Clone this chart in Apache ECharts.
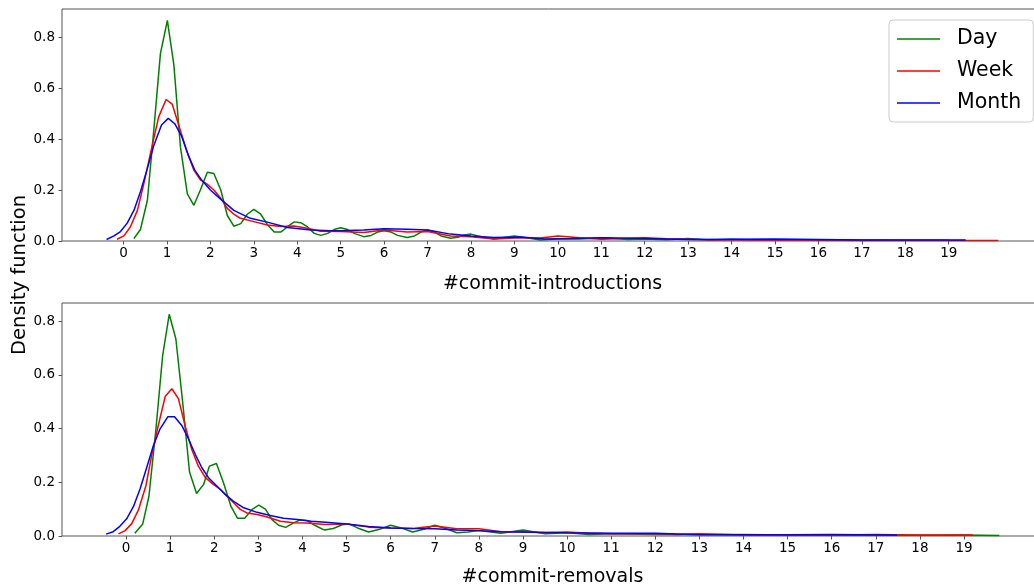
<!DOCTYPE html>
<html>
<head>
<meta charset="utf-8">
<script src="https://cdn.jsdelivr.net/npm/echarts@6/dist/echarts.min.js"></script>
<style>
html,body{margin:0;padding:0;background:#fff;}
#chart{width:1034px;height:588px;}
</style>
</head>
<body>
<div id="chart"></div>
<script>
// ---- data (x = count, y = density) ----
const xTicks = [0,1,2,3,4,5,6,7,8,9,10,11,12,13,14,15,16,17,18,19];
const yTicks = [0,0.2,0.4,0.6,0.8];
const seriesNames = ['Day','Week','Month'];

const introDay = [[0.24,0.01],[0.39,0.045],[0.55,0.16],[0.70,0.44],[0.85,0.735],[1.01,0.865],[1.16,0.69],[1.31,0.37],[1.47,0.185],[1.62,0.14],[1.77,0.2],[1.93,0.27],[2.08,0.265],[2.24,0.2],[2.39,0.1],[2.54,0.058],[2.70,0.068],[2.85,0.105],[3.0,0.124],[3.16,0.105],[3.31,0.065],[3.47,0.035],[3.62,0.035],[3.77,0.055],[3.93,0.075],[4.08,0.072],[4.24,0.055],[4.39,0.03],[4.54,0.022],[4.7,0.03],[4.85,0.045],[5.0,0.052],[5.16,0.045],[5.31,0.03],[5.53,0.017],[5.7,0.022],[5.85,0.035],[6.0,0.04],[6.16,0.035],[6.31,0.022],[6.53,0.014],[6.7,0.02],[6.85,0.035],[7.0,0.043],[7.16,0.035],[7.31,0.02],[7.53,0.011],[7.7,0.015],[7.85,0.024],[8.0,0.027],[8.16,0.02],[8.53,0.008],[8.8,0.015],[9.0,0.02],[9.2,0.015],[9.6,0.004],[10.0,0.008],[10.5,0.008],[11.1,0.013],[11.6,0.006],[12.0,0.008],[12.5,0.005],[13.0,0.01],[13.5,0.004],[14.0,0.007],[14.5,0.004],[15.0,0.005],[16.0,0.004],[17.0,0.004],[18.0,0.003],[19.0,0.003]];
const introWeek = [[-0.15,0.007],[0.01,0.02],[0.16,0.056],[0.32,0.12],[0.47,0.226],[0.62,0.344],[0.81,0.487],[0.98,0.555],[1.12,0.537],[1.27,0.455],[1.45,0.357],[1.62,0.278],[1.77,0.24],[1.93,0.222],[2.08,0.2],[2.23,0.17],[2.39,0.128],[2.54,0.105],[2.69,0.089],[3.0,0.076],[3.31,0.063],[3.62,0.057],[3.92,0.059],[4.23,0.05],[4.54,0.038],[5.0,0.037],[5.53,0.033],[6.0,0.043],[6.53,0.035],[7.0,0.037],[7.53,0.02],[8.0,0.017],[8.53,0.008],[9.14,0.013],[9.6,0.012],[10.0,0.02],[10.5,0.013],[11.0,0.007],[11.5,0.01],[12.0,0.013],[12.5,0.009],[13.0,0.007],[13.5,0.004],[14.0,0.004],[15.0,0.003],[16.0,0.004],[17.0,0.002],[18.0,0.002],[19.0,0.002],[20.14,0.002]];
const introMonth = [[-0.39,0.006],[-0.22,0.02],[-0.07,0.037],[0.085,0.07],[0.24,0.12],[0.39,0.193],[0.55,0.285],[0.70,0.376],[0.875,0.455],[1.03,0.481],[1.18,0.46],[1.34,0.41],[1.49,0.337],[1.64,0.278],[1.80,0.239],[2.0,0.2],[2.23,0.165],[2.54,0.12],[2.92,0.089],[3.31,0.074],[3.77,0.053],[4.31,0.043],[4.77,0.04],[5.0,0.04],[5.53,0.043],[6.0,0.048],[6.53,0.046],[7.0,0.043],[7.53,0.027],[8.0,0.02],[8.53,0.014],[9.14,0.016],[9.7,0.008],[10.3,0.01],[11.0,0.013],[12.0,0.01],[13.0,0.006],[14.0,0.007],[15.0,0.008],[16.0,0.006],[17.0,0.004],[18.0,0.004],[19.39,0.004]];

const removalDay = [[0.2,0.01],[0.38,0.045],[0.52,0.148],[0.68,0.40],[0.83,0.67],[0.98,0.825],[1.13,0.734],[1.29,0.49],[1.44,0.238],[1.6,0.158],[1.76,0.192],[1.89,0.26],[2.05,0.27],[2.21,0.198],[2.38,0.11],[2.53,0.066],[2.69,0.066],[2.86,0.099],[3.01,0.115],[3.16,0.1],[3.31,0.061],[3.46,0.04],[3.62,0.032],[3.8,0.049],[3.95,0.06],[4.1,0.058],[4.3,0.038],[4.5,0.022],[4.7,0.028],[4.9,0.042],[5.05,0.045],[5.25,0.03],[5.5,0.015],[5.75,0.025],[6.0,0.04],[6.2,0.032],[6.5,0.015],[6.75,0.025],[7.0,0.04],[7.25,0.028],[7.5,0.012],[7.75,0.015],[8.0,0.02],[8.5,0.01],[9.0,0.022],[9.5,0.008],[10.0,0.012],[10.5,0.006],[11.0,0.008],[12.0,0.006],[13.0,0.006],[14.0,0.006],[15.0,0.004],[16.0,0.004],[17.0,0.003],[18.0,0.003],[19.0,0.004],[19.8,0.002]];
const removalWeek = [[-0.17,0.008],[-0.02,0.02],[0.13,0.046],[0.28,0.096],[0.45,0.186],[0.58,0.298],[0.73,0.41],[0.89,0.52],[1.04,0.548],[1.19,0.51],[1.34,0.41],[1.49,0.323],[1.64,0.26],[1.8,0.217],[1.98,0.192],[2.14,0.173],[2.29,0.148],[2.44,0.124],[2.59,0.099],[2.74,0.086],[2.97,0.08],[3.2,0.071],[3.5,0.055],[3.8,0.049],[4.1,0.048],[4.5,0.043],[5.0,0.045],[5.5,0.033],[6.0,0.03],[6.5,0.028],[7.0,0.037],[7.5,0.027],[8.0,0.027],[8.5,0.016],[9.0,0.015],[9.5,0.012],[10.0,0.015],[10.5,0.01],[11.0,0.008],[12.0,0.008],[12.5,0.006],[13.0,0.008],[14.0,0.004],[15.0,0.004],[16.0,0.004],[17.0,0.006],[18.0,0.004],[19.2,0.004]];
const removalMonth = [[-0.45,0.007],[-0.29,0.016],[-0.14,0.036],[0.015,0.064],[0.17,0.11],[0.32,0.176],[0.47,0.255],[0.62,0.336],[0.77,0.398],[0.95,0.444],[1.1,0.444],[1.27,0.41],[1.42,0.36],[1.57,0.304],[1.72,0.254],[1.87,0.217],[2.06,0.186],[2.25,0.155],[2.43,0.13],[2.67,0.105],[2.97,0.088],[3.27,0.076],[3.57,0.066],[3.88,0.061],[4.2,0.055],[4.6,0.05],[5.0,0.045],[5.5,0.035],[6.0,0.03],[6.5,0.028],[7.0,0.027],[7.5,0.022],[8.0,0.02],[8.5,0.016],[9.0,0.015],[10.0,0.012],[11.0,0.01],[12.0,0.01],[13.0,0.005],[14.0,0.005],[15.0,0.005],[16.0,0.006],[17.48,0.004]];

// ---- chart ----
const FONT = 'DejaVu Sans';
const colors = ['#008000','#ff0000','#0000ff'];
const spine = '#555';

function xAxisCfg(gridIndex, min, max, name, nameGap){
  return {
    type:'value', gridIndex, min, max, name, nameLocation:'middle', nameGap,
    nameTextStyle:{fontFamily:FONT,fontSize:19,color:'#000'},
    axisLine:{show:false,onZero:false},
    axisTick:{show:true,length:3.5,lineStyle:{color:spine,width:1},customValues:xTicks},
    axisLabel:{customValues:xTicks,fontFamily:FONT,fontSize:13.5,color:'#000',margin:5,showMinLabel:true,showMaxLabel:true},
    splitLine:{show:false}
  };
}
function yAxisCfg(gridIndex, max){
  return {
    type:'value', gridIndex, min:0, max,
    axisLine:{show:false,onZero:false},
    axisTick:{show:true,length:3.5,lineStyle:{color:spine,width:1},customValues:yTicks},
    axisLabel:{customValues:yTicks,formatter:v=>v.toFixed(1),fontFamily:FONT,fontSize:13.5,color:'#000',margin:7},
    splitLine:{show:false}
  };
}
function mk(name, data, idx, axisIdx){
  return {type:'line', name, data, xAxisIndex:axisIdx, yAxisIndex:axisIdx, symbol:'none',
    lineStyle:{width:1.5,color:colors[idx]}, itemStyle:{color:colors[idx]}, animation:false, clip:true};
}

const chart = echarts.init(document.getElementById('chart'), null, {renderer:'canvas'});
chart.setOption({
  animation:false,
  backgroundColor:'#fff',
  textStyle:{fontFamily:FONT},
  grid:[
    {left:62, top:9, width:981, height:232, show:true, borderColor:spine, borderWidth:1, backgroundColor:'transparent', outerBoundsMode:'none', containLabel:false},
    {left:62, top:303, width:981, height:233, show:true, borderColor:spine, borderWidth:1, backgroundColor:'transparent', outerBoundsMode:'none', containLabel:false}
  ],
  xAxis:[
    xAxisCfg(0, -1.416, 21.17, '#commit-introductions', 34),
    xAxisCfg(1, -1.451, 20.79, '#commit-removals', 32)
  ],
  yAxis:[ yAxisCfg(0, 0.91), yAxisCfg(1, 0.867) ],
  legend:{
    data:seriesNames, orient:'vertical', left:889, top:20,
    padding:[7,12,7,8], itemGap:8, itemWidth:43, itemHeight:14,
    textStyle:{fontFamily:FONT,fontSize:20.5,color:'#000',lineHeight:24,padding:[0,0,0,12]},
    backgroundColor:'rgba(255,255,255,0.8)', borderColor:'#cccccc', borderWidth:1, borderRadius:4,
    icon:'path://M0,0 L43,0 L43,1.5 L0,1.5 Z'
  },
  graphic:[
    {type:'text', x:20, y:275, rotation:Math.PI/2,
     style:{text:'Density function', fontFamily:FONT, fontSize:19.5, fill:'#000', align:'center', verticalAlign:'middle'}}
  ],
  series:[
    mk('Day', introDay, 0, 0),
    mk('Week', introWeek, 1, 0),
    mk('Month', introMonth, 2, 0),
    mk('Day', removalDay, 0, 1),
    mk('Week', removalWeek, 1, 1),
    mk('Month', removalMonth, 2, 1)
  ]
});
</script>
</body>
</html>
